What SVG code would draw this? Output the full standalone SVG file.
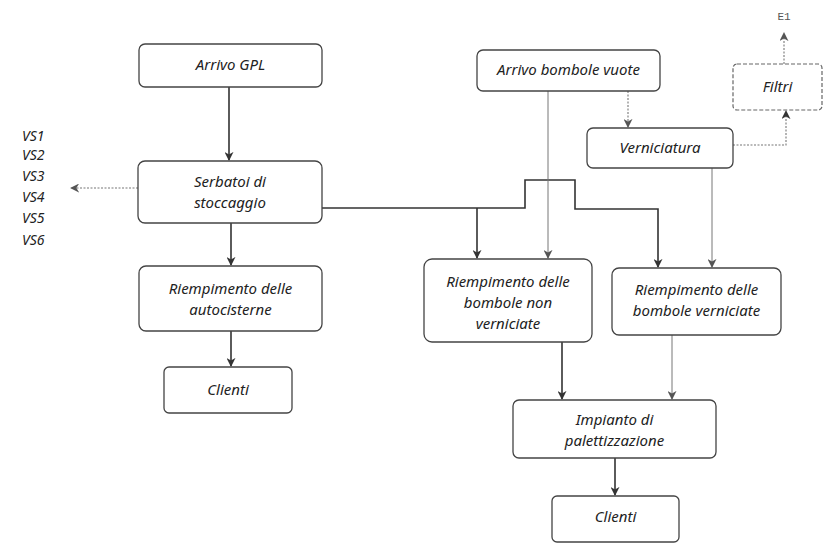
<svg xmlns="http://www.w3.org/2000/svg" width="829" height="545" viewBox="0 0 829 545">
<style>
.box{fill:#fff;stroke:#444;stroke-width:1.3}
.dbox{fill:#fff;stroke:#666;stroke-width:1.2;stroke-dasharray:4 2}
.t{font-family:"Noto Sans","Liberation Sans",sans-serif;font-style:italic;font-size:15px;fill:#222;text-anchor:middle}
.vs{font-family:"Noto Sans","Liberation Sans",sans-serif;font-style:italic;font-size:14px;fill:#222}
.e{font-family:"Liberation Mono",monospace;font-size:11px;fill:#555;text-anchor:middle}
.main{fill:none;stroke:#333;stroke-width:1.6}
.thin{fill:none;stroke:#777;stroke-width:1}
.dot{fill:none;stroke:#777;stroke-width:1.1;stroke-dasharray:2 1.5}
</style>
<defs>
<marker id="ah" viewBox="0 0 10 10" refX="9" refY="5" markerWidth="9" markerHeight="9" markerUnits="userSpaceOnUse" orient="auto">
<path d="M0,0 L10,5 L0,10 L3,5 Z" fill="#333"/>
</marker>
<marker id="ahg" viewBox="0 0 10 10" refX="9" refY="5" markerWidth="9" markerHeight="9" markerUnits="userSpaceOnUse" orient="auto">
<path d="M0,0 L10,5 L0,10 L3,5 Z" fill="#555"/>
</marker>
</defs>
<rect width="829" height="545" fill="#fff"/>

<g id="connectors">
<line class="main" x1="229" y1="87" x2="229" y2="160" marker-end="url(#ah)"/>
<line class="dot" x1="138" y1="188" x2="71" y2="188" marker-end="url(#ahg)"/>
<line class="main" x1="231" y1="223" x2="231" y2="265" marker-end="url(#ah)"/>
<line class="main" x1="231" y1="331" x2="231" y2="366" marker-end="url(#ah)"/>
<polyline class="main" points="322,208 525,208 525,180 575,180 575,209 658,209 658,267" marker-end="url(#ah)"/>
<line class="main" x1="477" y1="208" x2="477" y2="258" marker-end="url(#ah)"/>
<line class="thin" x1="548" y1="91" x2="548" y2="258" marker-end="url(#ahg)"/>
<line class="dot" x1="628" y1="91" x2="628" y2="127" marker-end="url(#ahg)"/>
<polyline class="dot" points="733,145 786,145 786,111" marker-end="url(#ah)"/>
<line class="dot" x1="784" y1="64" x2="784" y2="33" marker-end="url(#ahg)"/>
<line class="thin" x1="712" y1="168" x2="712" y2="267" marker-end="url(#ahg)"/>
<line class="main" x1="562" y1="342" x2="562" y2="399" marker-end="url(#ah)"/>
<line class="thin" x1="672" y1="335" x2="672" y2="399" marker-end="url(#ahg)"/>
<line class="main" x1="615" y1="458" x2="615" y2="495" marker-end="url(#ah)"/>
</g>

<g id="arrivo-gpl">
<rect class="box" x="139" y="44" width="183" height="43" rx="6"/>
<text class="t" x="230.5" y="70">Arrivo GPL</text>
</g>
<g id="serbatoi">
<rect class="box" x="138" y="161" width="184" height="62" rx="7"/>
<text class="t" x="230" y="187">Serbatoi di</text>
<text class="t" x="230" y="208">stoccaggio</text>
</g>
<g id="vs-labels">
<text class="vs" x="22" y="141">VS1</text>
<text class="vs" x="22" y="160">VS2</text>
<text class="vs" x="22" y="181">VS3</text>
<text class="vs" x="22" y="202">VS4</text>
<text class="vs" x="22" y="223">VS5</text>
<text class="vs" x="22" y="245">VS6</text>
</g>
<g id="riemp-autocisterne">
<rect class="box" x="139" y="266" width="183" height="65" rx="7"/>
<text class="t" x="230.5" y="294">Riempimento delle</text>
<text class="t" x="230.5" y="315">autocisterne</text>
</g>
<g id="clienti-1">
<rect class="box" x="164" y="367" width="128" height="46" rx="5"/>
<text class="t" x="228" y="395">Clienti</text>
</g>
<g id="arrivo-bombole">
<rect class="box" x="477" y="50" width="183" height="41" rx="6"/>
<text class="t" x="568.5" y="75">Arrivo bombole vuote</text>
</g>
<g id="verniciatura">
<rect class="box" x="587" y="128" width="146" height="40" rx="6"/>
<text class="t" x="660" y="153">Verniciatura</text>
</g>
<g id="filtri">
<rect class="dbox" x="733" y="64" width="89" height="46" rx="4"/>
<text class="t" x="777.5" y="92">Filtri</text>
</g>
<g id="e1">
<text class="e" x="784" y="20">E1</text>
</g>
<g id="riemp-non-verniciate">
<rect class="box" x="424" y="259" width="168" height="83" rx="8"/>
<text class="t" x="508" y="287">Riempimento delle</text>
<text class="t" x="508" y="308">bombole non</text>
<text class="t" x="508" y="329">verniciate</text>
</g>
<g id="riemp-verniciate">
<rect class="box" x="612" y="268" width="169" height="67" rx="7"/>
<text class="t" x="696.5" y="295">Riempimento delle</text>
<text class="t" x="696.5" y="316">bombole verniciate</text>
</g>
<g id="impianto">
<rect class="box" x="513" y="400" width="203" height="58" rx="6"/>
<text class="t" x="614.5" y="425">Impianto di</text>
<text class="t" x="614.5" y="446">palettizzazione</text>
</g>
<g id="clienti-2">
<rect class="box" x="552" y="496" width="127" height="46" rx="5"/>
<text class="t" x="615.5" y="522">Clienti</text>
</g>
</svg>
